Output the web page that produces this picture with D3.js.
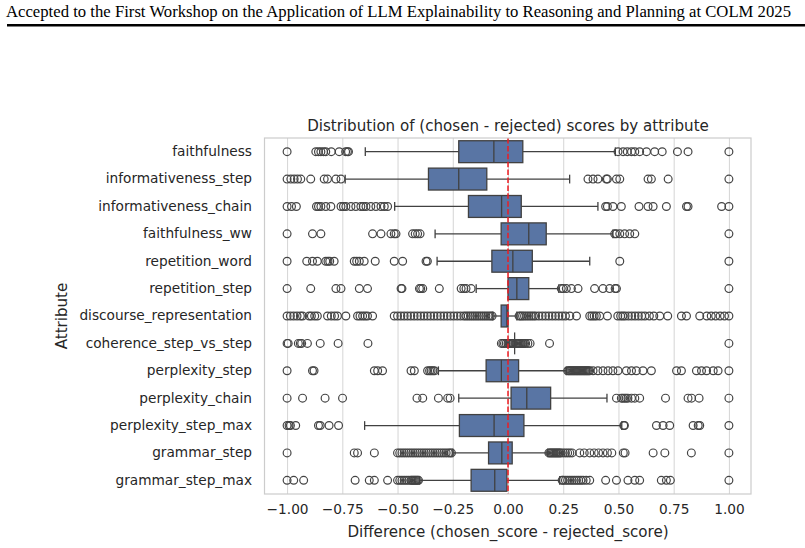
<!DOCTYPE html>
<html>
<head>
<meta charset="utf-8">
<script src="https://cdn.jsdelivr.net/npm/d3@7"></script>
<style>
  body { margin: 0; background: #fff; }
  svg { display: block; }
</style>
</head>
<body>
<svg id="chart"></svg>
<script>

// attributes, top to bottom
var attributes = [
  "faithfulness", "informativeness_step", "informativeness_chain", "faithfulness_ww",
  "repetition_word", "repetition_step", "discourse_representation",
  "coherence_step_vs_step", "perplexity_step", "perplexity_chain",
  "perplexity_step_max", "grammar_step", "grammar_step_max"
];

// box statistics
var q1 =        [-0.223, -0.360, -0.179, -0.031, -0.073, 0.000, -0.031, 0.030, -0.099, 0.014, -0.220, -0.088, -0.167];
var medians =   [-0.064, -0.223, -0.029,  0.094,  0.022, 0.040, -0.005, 0.030, -0.030, 0.085, -0.063, -0.028, -0.060];
var q3 =        [ 0.067, -0.096,  0.060,  0.173,  0.110, 0.094,  0.000, 0.030,  0.048, 0.193,  0.072,  0.019, -0.005];
var whiskerLo = [-0.646, -0.737, -0.513, -0.330, -0.321, -0.144, -0.069, 0.030, -0.315, -0.223, -0.649, -0.250, -0.401];
var whiskerHi = [ 0.486,  0.279,  0.407,  0.475,  0.370,  0.230,  0.040, 0.030,  0.264,  0.448,  0.515,  0.180,  0.234];

// fliers, one list per attribute
var outliers = [
  [-1.0, -0.87, -0.858, -0.847, -0.835, -0.825, -0.80, -0.764, -0.735, -0.727, -0.722,
   0.498, 0.521, 0.54, 0.559, 0.574, 0.596, 0.627, 0.664, 0.698, 0.767, 0.815, 1.0],
  [-1.0, -0.983, -0.968, -0.953, -0.938, -0.893, -0.832, -0.817, -0.779, -0.756,
   0.362, 0.385, 0.407, 0.445, 0.45, 0.491, 0.506, 0.634, 0.649, 0.725, 1.0],
  [-1.0, -0.98, -0.958, -0.867, -0.858, -0.847, -0.825, -0.802, -0.756, -0.745, -0.734, -0.711,
   -0.689, -0.666, -0.655, -0.643, -0.621, -0.598, -0.575, -0.56, -0.545,
   0.442, 0.45, 0.475, 0.513, 0.593, 0.634, 0.657, 0.717, 0.808, 0.815, 0.967, 1.0],
  [-1.0, -0.885, -0.847, -0.613, -0.575, -0.53, -0.515, -0.507, -0.432, -0.42, -0.409, -0.398,
   0.483, 0.49, 0.506, 0.528, 0.551, 0.574, 1.0],
  [-1.0, -0.911, -0.885, -0.863, -0.825, -0.815, -0.807, -0.787, -0.696, -0.685, -0.673, -0.651,
   -0.601, -0.515, -0.477, -0.371, -0.365, 0.506, 1.0],
  [-1.0, -0.893, -0.779, -0.756, -0.673, -0.636, -0.484, -0.48, -0.401, -0.395, -0.386, -0.311,
   -0.212, -0.2, -0.19, -0.167, 0.241, 0.25, 0.264, 0.287, 0.317, 0.392, 0.43, 0.46, 0.485, 0.491, 1.0],
  [-1.0, -0.985, -0.97, -0.955, -0.94, -0.93, -0.9, -0.89, -0.875, -0.863, -0.817, -0.8, -0.785,
   -0.772, -0.734, -0.681, -0.67, -0.658, -0.647, -0.636, -0.613,
   -0.515, -0.5, -0.485, -0.47, -0.455, -0.44, -0.425, -0.41, -0.395, -0.38, -0.365, -0.35, -0.335,
   -0.32, -0.305, -0.29, -0.275, -0.26, -0.245, -0.23, -0.215, -0.2, -0.19, -0.18, -0.17, -0.16,
   -0.15, -0.14, -0.13, -0.12, -0.11, -0.1, -0.09, -0.08, -0.072,
   0.05, 0.058, 0.066, 0.075, 0.085, 0.095, 0.105, 0.115, 0.125, 0.14, 0.155, 0.17, 0.185, 0.2,
   0.215, 0.23, 0.245, 0.26, 0.28, 0.31, 0.37, 0.38, 0.39, 0.4, 0.415, 0.45, 0.497, 0.51, 0.52,
   0.53, 0.545, 0.56, 0.575, 0.59, 0.605, 0.62, 0.64, 0.66, 0.687, 0.723, 0.785, 0.808, 0.868,
   0.9, 0.92, 0.94, 0.96, 0.98, 1.0],
  [-1.0, -0.995, -0.949, -0.94, -0.934, -0.908, -0.85, -0.769, -0.634, -0.03, -0.023, -0.016,
   -0.008, 0.0, 0.005, 0.01, 0.015, 0.02, 0.025, 0.035, 0.04, 0.045, 0.05, 0.055, 0.06, 0.065,
   0.07, 0.075, 0.08, 0.09, 0.1, 0.188, 1.0],
  [-1.0, -0.885, -0.878, -0.605, -0.59, -0.568, -0.439, -0.424, -0.364, -0.355, -0.348, -0.34, -0.333,
   0.27, 0.275, 0.28, 0.285, 0.29, 0.295, 0.3, 0.305, 0.31, 0.315, 0.32, 0.325, 0.33, 0.335, 0.34,
   0.345, 0.35, 0.355, 0.36, 0.365, 0.37, 0.385, 0.407, 0.43, 0.453, 0.475, 0.498, 0.536, 0.559,
   0.581, 0.611, 0.649, 0.763, 0.785, 0.853, 0.876, 0.899, 0.929, 0.951, 1.0],
  [-1.0, -0.93, -0.828, -0.749, -0.412, -0.386, -0.315, -0.273, -0.262,
   0.491, 0.513, 0.52, 0.528, 0.535, 0.543, 0.559, 0.574, 0.596, 0.713, 0.815, 0.831, 0.865, 1.0],
  [-1.0, -0.991, -0.985, -0.961, -0.858, -0.85, -0.81, -0.767,
   0.524, 0.527, 0.672, 0.702, 0.732, 0.838, 0.861, 0.868, 1.0],
  [-1.0, -0.696, -0.681, -0.605, -0.5, -0.49, -0.48, -0.47, -0.46, -0.45, -0.44, -0.43, -0.42,
   -0.41, -0.4, -0.39, -0.38, -0.37, -0.36, -0.35, -0.34, -0.33, -0.32, -0.31, -0.3, -0.29, -0.28,
   -0.27, -0.262, -0.256,
   0.185, 0.19, 0.195, 0.2, 0.205, 0.21, 0.215, 0.22, 0.225, 0.23, 0.235, 0.24, 0.25, 0.26, 0.27,
   0.28, 0.29, 0.325, 0.345, 0.37, 0.39, 0.41, 0.43, 0.45, 0.47, 0.522, 0.53, 0.657, 0.71, 0.83, 1.0],
  [-1.0, -0.97, -0.925, -0.692, -0.628, -0.605, -0.545, -0.5, -0.49, -0.48, -0.47, -0.46, -0.45,
   -0.44, -0.435, -0.43, -0.425, -0.42, -0.415, -0.41, -0.405,
   0.245, 0.25, 0.26, 0.27, 0.28, 0.29, 0.3, 0.31, 0.32, 0.33, 0.34, 0.354, 0.37,
   0.442, 0.491, 0.543, 0.574, 0.596, 0.694, 0.717, 0.735, 1.0]
];

var xTicks = [-1.00, -0.75, -0.50, -0.25, 0.00, 0.25, 0.50, 0.75, 1.00];

var width = 805,
    height = 548,
    plot = { left: 265, right: 751, top: 138, bottom: 494 };

var boxFill = "#5975a4",
    lineColor = "#414141",
    textColor = "#262626",
    gridColor = "#d5d5d5";

var svg = d3.select("#chart")
  .attr("width", width)
  .attr("height", height)
  .style("font-family", "'DejaVu Sans', sans-serif");

// page header from the paper
svg.append("text")
  .attr("x", 6)
  .attr("y", 17)
  .attr("textLength", 785)
  .attr("lengthAdjust", "spacingAndGlyphs")
  .style("font-family", "'Liberation Serif', 'DejaVu Serif', serif")
  .style("font-size", "16.8px")
  .style("fill", "#000")
  .text("Accepted to the First Workshop on the Application of LLM Explainability to Reasoning and Planning at COLM 2025");

svg.append("line")
  .attr("x1", 7).attr("x2", width)
  .attr("y1", 25.3).attr("y2", 25.3)
  .style("stroke", "#000")
  .style("stroke-width", 2.6);

var x = d3.scaleLinear()
  .domain([-1.1, 1.1])
  .range([plot.left, plot.right]);

var y = d3.scaleBand()
  .domain(attributes)
  .range([plot.top, plot.bottom])
  .padding(0);

var boxH = y.bandwidth() * 0.8;

// vertical grid
svg.append("g")
  .attr("class", "grid")
  .attr("transform", "translate(0," + plot.bottom + ")")
  .call(d3.axisBottom(x).tickValues(xTicks).tickSize(-(plot.bottom - plot.top)).tickFormat(""))
  .call(function (g) { g.select(".domain").remove(); })
  .selectAll("line")
  .style("stroke", gridColor)
  .style("stroke-width", 1);

var rows = svg.append("g").selectAll("g")
  .data(attributes)
  .enter()
  .append("g")
  .attr("transform", function (d) { return "translate(0," + (y(d) + y.bandwidth() / 2) + ")"; });

// whiskers
rows.append("line")
  .attr("x1", function (d, i) { return x(whiskerLo[i]); })
  .attr("x2", function (d, i) { return x(q1[i]); })
  .style("stroke", lineColor).style("stroke-width", 1.3);

rows.append("line")
  .attr("x1", function (d, i) { return x(q3[i]); })
  .attr("x2", function (d, i) { return x(whiskerHi[i]); })
  .style("stroke", lineColor).style("stroke-width", 1.3);

// caps
[whiskerLo, whiskerHi].forEach(function (arr) {
  rows.append("line")
    .attr("x1", function (d, i) { return x(arr[i]); })
    .attr("x2", function (d, i) { return x(arr[i]); })
    .attr("y1", -boxH * 0.2)
    .attr("y2", boxH * 0.2)
    .style("stroke", lineColor).style("stroke-width", 1.3);
});

// boxes
rows.append("rect")
  .attr("x", function (d, i) { return x(q1[i]); })
  .attr("y", -boxH / 2)
  .attr("width", function (d, i) { return x(q3[i]) - x(q1[i]); })
  .attr("height", boxH)
  .style("fill", boxFill)
  .style("stroke", lineColor)
  .style("stroke-width", 1.3);

// medians
rows.append("line")
  .attr("x1", function (d, i) { return x(medians[i]); })
  .attr("x2", function (d, i) { return x(medians[i]); })
  .attr("y1", -boxH / 2)
  .attr("y2", boxH / 2)
  .style("stroke", lineColor).style("stroke-width", 1.3);

// fliers
rows.selectAll("circle")
  .data(function (d, i) { return outliers[i]; })
  .enter()
  .append("circle")
  .attr("cx", function (v) { return x(v); })
  .attr("cy", 0)
  .attr("r", 3.9)
  .style("fill", "none")
  .style("stroke", "#444")
  .style("stroke-width", 1.2);

// zero reference
svg.append("line")
  .attr("x1", x(0)).attr("x2", x(0))
  .attr("y1", plot.top).attr("y2", plot.bottom)
  .style("stroke", "#ee1c22")
  .style("stroke-width", 1.5)
  .style("stroke-dasharray", "5.5,2.4");

// frame
svg.append("rect")
  .attr("x", plot.left - 0.5)
  .attr("y", plot.top)
  .attr("width", plot.right - plot.left + 0.5)
  .attr("height", plot.bottom - plot.top)
  .style("fill", "none")
  .style("stroke", "#cccccc")
  .style("stroke-width", 1.2);

// axes
var xAxis = svg.append("g")
  .attr("transform", "translate(0," + plot.bottom + ")")
  .call(d3.axisBottom(x).tickValues(xTicks).tickSize(0).tickPadding(10).tickFormat(d3.format(".2f")));
xAxis.select(".domain").remove();

var yAxis = svg.append("g")
  .attr("transform", "translate(" + plot.left + ",0)")
  .call(d3.axisLeft(y).tickSize(0).tickPadding(13));
yAxis.select(".domain").remove();

svg.selectAll(".tick text")
  .style("font-family", "'DejaVu Sans', sans-serif")
  .style("font-size", "13.7px")
  .style("fill", textColor);

// labels and title
svg.append("text")
  .attr("x", (plot.left + plot.right) / 2)
  .attr("y", 131)
  .attr("text-anchor", "middle")
  .style("font-size", "15.1px")
  .style("fill", textColor)
  .text("Distribution of (chosen - rejected) scores by attribute");

svg.append("text")
  .attr("x", (plot.left + plot.right) / 2)
  .attr("y", 537)
  .attr("text-anchor", "middle")
  .style("font-size", "15.1px")
  .style("fill", textColor)
  .text("Difference (chosen_score - rejected_score)");

svg.append("text")
  .attr("transform", "translate(67," + (plot.top + plot.bottom) / 2 + ") rotate(-90)")
  .attr("text-anchor", "middle")
  .style("font-size", "15.1px")
  .style("fill", textColor)
  .text("Attribute");

</script>
</body>
</html>
